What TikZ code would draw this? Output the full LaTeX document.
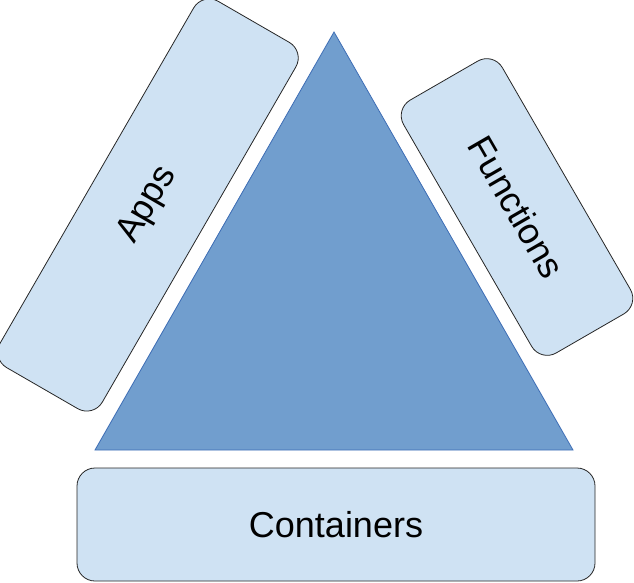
\documentclass[tikz,border=0pt]{standalone}
\usepackage{fontspec}
\setmainfont{Liberation Sans}
\definecolor{boxfill}{HTML}{CFE2F3}
\definecolor{trifill}{HTML}{719ECE}
\definecolor{tridraw}{HTML}{3D6DB5}
\begin{document}
\begin{tikzpicture}[x=1pt,y=-1pt,
  layer/.style={draw=black!85, line width=0.8pt, fill=boxfill, rounded corners=18pt,
    inner sep=0pt, font=\fontsize{36}{40}\selectfont}]
\useasboundingbox (0,0) rectangle (634,582);
\coordinate (apex) at (334,32);
\coordinate (bl) at (95,450);
\coordinate (br) at (573,450);
\draw[fill=trifill, draw=tridraw, line width=0.8pt] (apex) -- (br) -- (bl) -- cycle;
\node[layer, minimum width=518pt, minimum height=113pt] (containers) at (336,524.5) {Containers};
\node[layer, rotate=60, minimum width=423pt, minimum height=118pt] (apps) at (148,205) {Apps};
\node[layer, rotate=-60, minimum width=292pt, minimum height=114pt] (functions) at (517,207) {Functions};
\end{tikzpicture}
\end{document}
